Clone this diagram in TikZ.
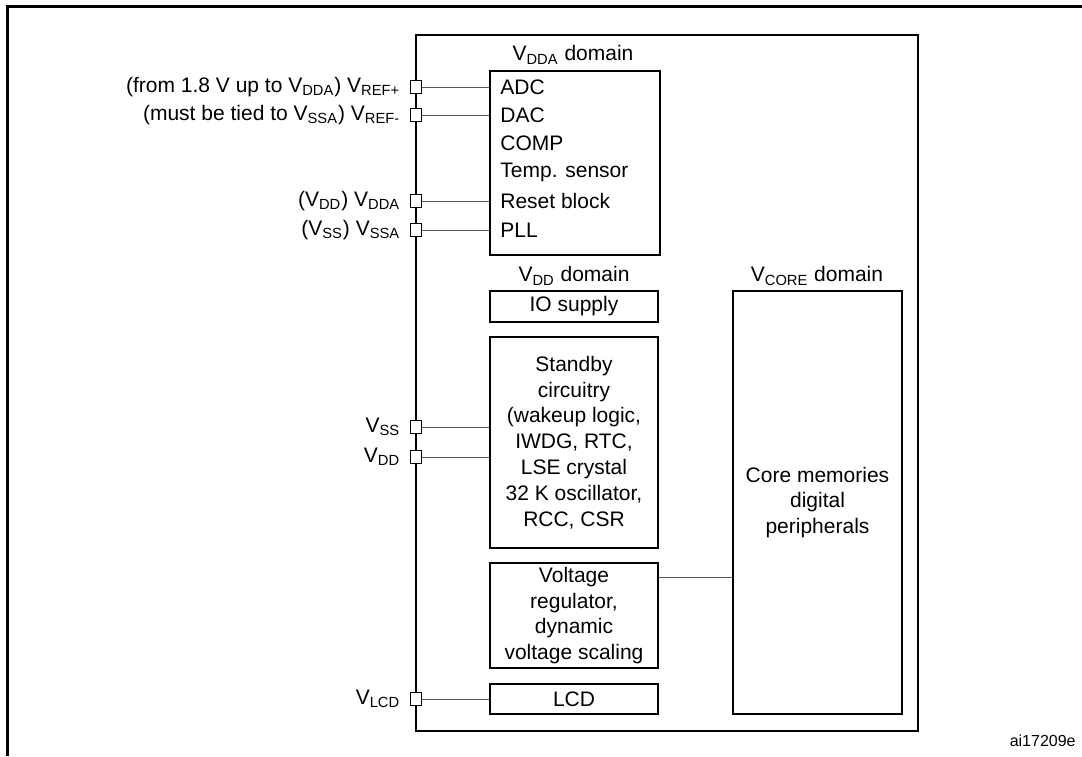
\documentclass[tikz,border=0pt]{standalone}
\usepackage{fontspec}
\setmainfont{Liberation Sans}
\usetikzlibrary{positioning}
\newcommand{\vsub}[1]{V\textsubscript{#1}}
\newcommand{\diagfont}{\fontsize{10.5}{12.9}\selectfont}
\tikzset{
  blk/.style={draw, line width=0.9pt, minimum width=84pt, inner sep=0pt,
    align=center, font=\diagfont},
  item/.style={anchor=west, inner sep=0pt, font=\diagfont},
  domlbl/.style={inner sep=0pt, font=\diagfont},
  padbox/.style={draw, fill=white, line width=0.9pt, minimum width=5.5pt,
    minimum height=6.5pt, inner sep=0pt},
  padlbl/.style={inner sep=0pt, font=\diagfont},
  wire/.style={line width=0.5pt, black!65},
  chip/.style={draw, line width=1pt},
  frame/.style={line width=1.5pt}
}

\begin{document}
\begin{tikzpicture}[x=0.5pt, y=-0.5pt]
  \useasboundingbox (0,0) rectangle (1082,756);
  % page frame
  \draw[frame] (1082,6) -- (7,6) -- (7,756);
  % device outline
  \draw[chip] (416,35) rectangle (918,731);

  % VDDA domain
  \node[domlbl] at (573,55) {\vsub{DDA} domain};
  \node[blk, minimum width=85pt, minimum height=92pt] (vdda) at (575,163) {};
  \node[item] (adc) at (500,87) {ADC};
  \node[item] (dac) at (500,115) {DAC};
  \node[item] (comp) at (500,143) {COMP};
  \node[item] (temp) at (500,172) {Temp. sensor};
  \node[item] (rst) at (500,201) {Reset block};
  \node[item] (pll) at (500,230) {PLL};

  % VDD domain
  \node[domlbl] at (574,276) {\vsub{DD} domain};
  \node[blk, minimum height=15.5pt] (io) at (574,306.5) {IO supply};
  \node[blk, minimum height=105.5pt] (stby) at (574,442.5)
    {Standby\\circuitry\\(wakeup logic,\\IWDG, RTC,\\LSE crystal\\32 K oscillator,\\RCC, CSR};
  \node[blk, minimum height=52.5pt] (reg) at (574,615.5)
    {Voltage\\regulator,\\dynamic\\voltage scaling};
  \node[blk, minimum height=15pt] (lcd) at (574,699) {LCD};

  % VCORE domain
  \node[domlbl] at (817,276) {\vsub{CORE} domain};
  \node[blk, minimum width=84.5pt, minimum height=211.5pt] (core) at (817.5,502.5)
    {Core memories\\digital\\peripherals};

  % supply pads
  \node[padbox] (pREFp) at (416,87) {};
  \node[padbox] (pREFm) at (416,115) {};
  \node[padbox] (pDDA) at (416,201) {};
  \node[padbox] (pSSA) at (416,230) {};
  \node[padbox] (pSS) at (416,427) {};
  \node[padbox] (pDD) at (416,457) {};
  \node[padbox] (pLCD) at (416,699) {};

  \node[padlbl, left=4.5pt of pREFp] {(from 1.8 V up to \vsub{DDA}) \vsub{REF+}};
  \node[padlbl, left=4.5pt of pREFm] {(must be tied to \vsub{SSA}) \vsub{REF-}};
  \node[padlbl, left=4.5pt of pDDA] {(\vsub{DD}) \vsub{DDA}};
  \node[padlbl, left=4.5pt of pSSA] {(\vsub{SS}) \vsub{SSA}};
  \node[padlbl, left=4.5pt of pSS] {\vsub{SS}};
  \node[padlbl, left=4.5pt of pDD] {\vsub{DD}};
  \node[padlbl, left=4.5pt of pLCD] {\vsub{LCD}};

  % connections
  \foreach \p in {pREFp, pREFm, pDDA, pSSA}
    \draw[wire] (\p.east) -- (\p.east -| vdda.west);
  \foreach \p in {pSS, pDD}
    \draw[wire] (\p.east) -- (\p.east -| stby.west);
  \draw[wire] (pLCD.east) -- (lcd.west);
  \draw[wire] ([yshift=-7.5pt]reg.north east) coordinate (rl) -- (rl -| core.west);

  \node[anchor=east, inner sep=0pt, font=\fontsize{8}{9.6}\selectfont] (ref) at (1076,741) {ai17209e};
\end{tikzpicture}
\end{document}
